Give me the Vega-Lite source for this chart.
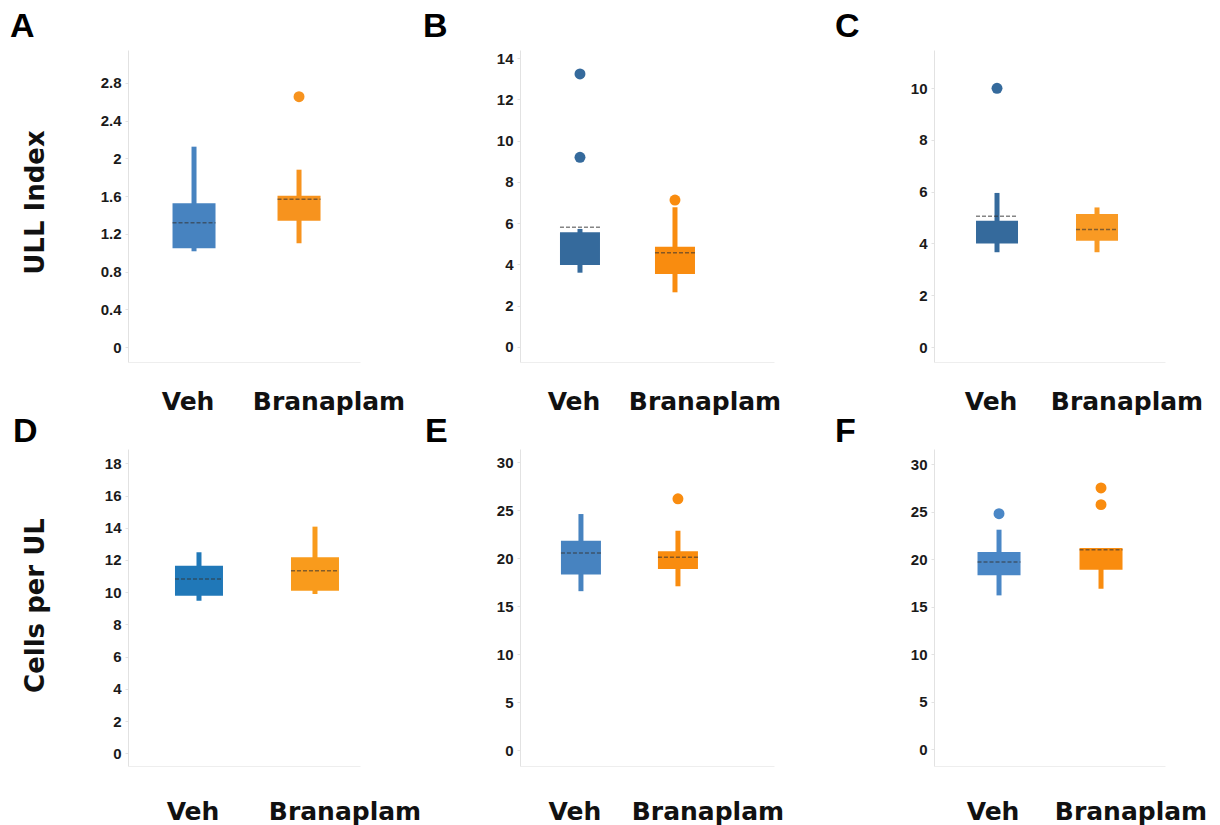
{
  "$schema": "https://vega.github.io/schema/vega-lite/v6.json",
  "background": "white",
  "padding": {"left": 10, "top": 10, "right": 5, "bottom": 5},
  "datasets": {
    "boxes": [
      {"panel": "A", "group": "Veh", "lo": 1.015, "q1": 1.047, "mean": 1.318, "q3": 1.524, "hi": 2.124},
      {"panel": "A", "group": "Branaplam", "lo": 1.10, "q1": 1.339, "mean": 1.566, "q3": 1.605, "hi": 1.88},
      {"panel": "B", "group": "Veh", "lo": 3.60, "q1": 3.97, "mean": 5.80, "q3": 5.56, "hi": 5.72},
      {"panel": "B", "group": "Branaplam", "lo": 2.65, "q1": 3.54, "mean": 4.57, "q3": 4.86, "hi": 6.77},
      {"panel": "C", "group": "Veh", "lo": 3.66, "q1": 4.00, "mean": 5.05, "q3": 4.88, "hi": 5.95},
      {"panel": "C", "group": "Branaplam", "lo": 3.66, "q1": 4.10, "mean": 4.54, "q3": 5.14, "hi": 5.39},
      {"panel": "D", "group": "Veh", "lo": 9.47, "q1": 9.78, "mean": 10.82, "q3": 11.64, "hi": 12.48},
      {"panel": "D", "group": "Branaplam", "lo": 9.89, "q1": 10.09, "mean": 11.33, "q3": 12.17, "hi": 14.07},
      {"panel": "E", "group": "Veh", "lo": 16.56, "q1": 18.29, "mean": 20.54, "q3": 21.82, "hi": 24.6},
      {"panel": "E", "group": "Branaplam", "lo": 17.07, "q1": 18.88, "mean": 20.09, "q3": 20.71, "hi": 22.86},
      {"panel": "F", "group": "Veh", "lo": 16.18, "q1": 18.29, "mean": 19.70, "q3": 20.75, "hi": 23.1},
      {"panel": "F", "group": "Branaplam", "lo": 16.88, "q1": 18.89, "mean": 21.0, "q3": 21.17, "hi": 21.17}
    ],
    "outliers": [
      {"panel": "A", "group": "Branaplam", "value": 2.654},
      {"panel": "B", "group": "Veh", "value": 13.23},
      {"panel": "B", "group": "Veh", "value": 9.19},
      {"panel": "B", "group": "Branaplam", "value": 7.12},
      {"panel": "C", "group": "Veh", "value": 9.99},
      {"panel": "E", "group": "Branaplam", "value": 26.19},
      {"panel": "F", "group": "Veh", "value": 24.79},
      {"panel": "F", "group": "Branaplam", "value": 27.5},
      {"panel": "F", "group": "Branaplam", "value": 25.74}
    ]
  },
  "columns": 3,
  "bounds": "flush",
  "spacing": {"row": 87, "column": 160},
  "resolve": {"scale": {"color": "independent"}},
  "concat": [
    {
      "width": 232, "height": 312,
      "title": {"text": "A", "dx": -118, "offset": 6},
      "encoding": {"x": {"field": "group", "type": "nominal", "sort": ["Veh", "Branaplam"], "title": null,
        "scale": {"domain": ["Veh", "Branaplam"], "paddingInner": 0.5905, "paddingOuter": 0.4, "align": 0.53},
        "axis": {"labelPadding": 27, "labelOffset": {"condition": {"test": "datum.label == 'Branaplam'", "value": 30}, "value": -6}}}},
      "layer": [
        {"data": {"name": "boxes"}, "transform": [{"filter": "datum.panel == 'A'"}], "mark": {"type": "rule", "strokeWidth": 5},
          "encoding": {"y": {"field": "lo", "type": "quantitative", "title": "ULL Index", "scale": {"domain": [-0.159, 3.149], "nice": false, "zero": false},
            "axis": {"values": [0, 0.4, 0.8, 1.2, 1.6, 2, 2.4, 2.8], "format": "~r", "labelOverlap": false, "titleX": -85, "titleY": 152, "titleBaseline": "alphabetic"}},
            "y2": {"field": "hi"},
            "color": {"field": "group", "type": "nominal", "legend": null, "scale": {"domain": ["Veh", "Branaplam"], "range": ["#4783c0", "#f7931e"]}}}},
        {"data": {"name": "boxes"}, "transform": [{"filter": "datum.panel == 'A'"}], "mark": {"type": "bar"},
          "encoding": {"y": {"field": "q1", "type": "quantitative", "title": "ULL Index", "scale": {"domain": [-0.159, 3.149], "nice": false, "zero": false}},
            "y2": {"field": "q3"},
            "color": {"field": "group", "type": "nominal", "legend": null, "scale": {"domain": ["Veh", "Branaplam"], "range": ["#4783c0", "#f7931e"]}}}},
        {"data": {"name": "boxes"}, "transform": [{"filter": "datum.panel == 'A'"}], "mark": {"type": "rule", "strokeDash": [4, 2], "strokeWidth": 1.5, "color": "#333333", "opacity": 0.6},
          "encoding": {"x": {"field": "group", "type": "nominal", "sort": ["Veh", "Branaplam"], "title": null, "bandPosition": 0},
            "x2": {"field": "group", "bandPosition": 1},
            "y": {"field": "mean", "type": "quantitative", "title": "ULL Index", "scale": {"domain": [-0.159, 3.149], "nice": false, "zero": false}}}},
        {"data": {"name": "outliers"}, "transform": [{"filter": "datum.panel == 'A'"}], "mark": {"type": "point", "filled": true, "size": 120, "opacity": 1},
          "encoding": {"y": {"field": "value", "type": "quantitative", "title": "ULL Index", "scale": {"domain": [-0.159, 3.149], "nice": false, "zero": false}},
            "color": {"field": "group", "type": "nominal", "legend": null, "scale": {"domain": ["Veh", "Branaplam"], "range": ["#4783c0", "#f7931e"]}}}}
      ]
    },
    {
      "width": 254, "height": 312,
      "title": {"text": "B", "dx": -97, "offset": 6},
      "encoding": {"x": {"field": "group", "type": "nominal", "sort": ["Veh", "Branaplam"], "title": null,
        "scale": {"domain": ["Veh", "Branaplam"], "paddingInner": 0.5789, "paddingOuter": 0.6263, "align": 0.336},
        "axis": {"labelPadding": 27, "labelOffset": {"condition": {"test": "datum.label == 'Branaplam'", "value": 30}, "value": -6}}}},
      "layer": [
        {"data": {"name": "boxes"}, "transform": [{"filter": "datum.panel == 'B'"}], "mark": {"type": "rule", "strokeWidth": 5},
          "encoding": {"y": {"field": "lo", "type": "quantitative", "title": null, "scale": {"domain": [-0.727, 14.39], "nice": false, "zero": false},
            "axis": {"values": [0, 2, 4, 6, 8, 10, 12, 14], "format": "~r", "labelOverlap": false}},
            "y2": {"field": "hi"},
            "color": {"field": "group", "type": "nominal", "legend": null, "scale": {"domain": ["Veh", "Branaplam"], "range": ["#356a9c", "#f98c0f"]}}}},
        {"data": {"name": "boxes"}, "transform": [{"filter": "datum.panel == 'B'"}], "mark": {"type": "bar"},
          "encoding": {"y": {"field": "q1", "type": "quantitative", "title": null, "scale": {"domain": [-0.727, 14.39], "nice": false, "zero": false}},
            "y2": {"field": "q3"},
            "color": {"field": "group", "type": "nominal", "legend": null, "scale": {"domain": ["Veh", "Branaplam"], "range": ["#356a9c", "#f98c0f"]}}}},
        {"data": {"name": "boxes"}, "transform": [{"filter": "datum.panel == 'B'"}], "mark": {"type": "rule", "strokeDash": [4, 2], "strokeWidth": 1.5, "color": "#333333", "opacity": 0.6},
          "encoding": {"x": {"field": "group", "type": "nominal", "sort": ["Veh", "Branaplam"], "title": null, "bandPosition": 0},
            "x2": {"field": "group", "bandPosition": 1},
            "y": {"field": "mean", "type": "quantitative", "title": null, "scale": {"domain": [-0.727, 14.39], "nice": false, "zero": false}}}},
        {"data": {"name": "outliers"}, "transform": [{"filter": "datum.panel == 'B'"}], "mark": {"type": "point", "filled": true, "size": 120, "opacity": 1},
          "encoding": {"y": {"field": "value", "type": "quantitative", "title": null, "scale": {"domain": [-0.727, 14.39], "nice": false, "zero": false}},
            "color": {"field": "group", "type": "nominal", "legend": null, "scale": {"domain": ["Veh", "Branaplam"], "range": ["#356a9c", "#f98c0f"]}}}}
      ]
    },
    {
      "width": 231, "height": 312,
      "title": {"text": "C", "dx": -99, "offset": 6},
      "encoding": {"x": {"field": "group", "type": "nominal", "sort": ["Veh", "Branaplam"], "title": null,
        "scale": {"domain": ["Veh", "Branaplam"], "paddingInner": 0.58, "paddingOuter": 0.445, "align": 0.472},
        "axis": {"labelPadding": 27, "labelOffset": {"condition": {"test": "datum.label == 'Branaplam'", "value": 30}, "value": -6}}}},
      "layer": [
        {"data": {"name": "boxes"}, "transform": [{"filter": "datum.panel == 'C'"}], "mark": {"type": "rule", "strokeWidth": 5},
          "encoding": {"y": {"field": "lo", "type": "quantitative", "title": null, "scale": {"domain": [-0.579, 11.47], "nice": false, "zero": false},
            "axis": {"values": [0, 2, 4, 6, 8, 10], "format": "~r", "labelOverlap": false}},
            "y2": {"field": "hi"},
            "color": {"field": "group", "type": "nominal", "legend": null, "scale": {"domain": ["Veh", "Branaplam"], "range": ["#356a9c", "#f99a24"]}}}},
        {"data": {"name": "boxes"}, "transform": [{"filter": "datum.panel == 'C'"}], "mark": {"type": "bar"},
          "encoding": {"y": {"field": "q1", "type": "quantitative", "title": null, "scale": {"domain": [-0.579, 11.47], "nice": false, "zero": false}},
            "y2": {"field": "q3"},
            "color": {"field": "group", "type": "nominal", "legend": null, "scale": {"domain": ["Veh", "Branaplam"], "range": ["#356a9c", "#f99a24"]}}}},
        {"data": {"name": "boxes"}, "transform": [{"filter": "datum.panel == 'C'"}], "mark": {"type": "rule", "strokeDash": [4, 2], "strokeWidth": 1.5, "color": "#333333", "opacity": 0.6},
          "encoding": {"x": {"field": "group", "type": "nominal", "sort": ["Veh", "Branaplam"], "title": null, "bandPosition": 0},
            "x2": {"field": "group", "bandPosition": 1},
            "y": {"field": "mean", "type": "quantitative", "title": null, "scale": {"domain": [-0.579, 11.47], "nice": false, "zero": false}}}},
        {"data": {"name": "outliers"}, "transform": [{"filter": "datum.panel == 'C'"}], "mark": {"type": "point", "filled": true, "size": 120, "opacity": 1},
          "encoding": {"y": {"field": "value", "type": "quantitative", "title": null, "scale": {"domain": [-0.579, 11.47], "nice": false, "zero": false}},
            "color": {"field": "group", "type": "nominal", "legend": null, "scale": {"domain": ["Veh", "Branaplam"], "range": ["#356a9c", "#f99a24"]}}}}
      ]
    },
    {
      "width": 232, "height": 317,
      "title": {"text": "D", "dx": -115, "offset": 0},
      "encoding": {"x": {"field": "group", "type": "nominal", "sort": ["Veh", "Branaplam"], "title": null,
        "scale": {"domain": ["Veh", "Branaplam"], "paddingInner": 0.5862, "paddingOuter": 0.2931, "align": 0.691},
        "axis": {"labelPadding": 33, "labelOffset": {"condition": {"test": "datum.label == 'Branaplam'", "value": 30}, "value": -6}}}},
      "layer": [
        {"data": {"name": "boxes"}, "transform": [{"filter": "datum.panel == 'D'"}], "mark": {"type": "rule", "strokeWidth": 5},
          "encoding": {"y": {"field": "lo", "type": "quantitative", "title": "Cells per UL", "scale": {"domain": [-0.789, 18.89], "nice": false, "zero": false},
            "axis": {"values": [0, 2, 4, 6, 8, 10, 12, 14, 16, 18], "format": "~r", "labelOverlap": false, "titleX": -85, "titleY": 156, "titleBaseline": "alphabetic"}},
            "y2": {"field": "hi"},
            "color": {"field": "group", "type": "nominal", "legend": null, "scale": {"domain": ["Veh", "Branaplam"], "range": ["#2078b8", "#f99b1c"]}}}},
        {"data": {"name": "boxes"}, "transform": [{"filter": "datum.panel == 'D'"}], "mark": {"type": "bar"},
          "encoding": {"y": {"field": "q1", "type": "quantitative", "title": "Cells per UL", "scale": {"domain": [-0.789, 18.89], "nice": false, "zero": false},
            "axis": {"values": [0, 2, 4, 6, 8, 10, 12, 14, 16, 18], "format": "~r", "labelOverlap": false}},
            "y2": {"field": "q3"},
            "color": {"field": "group", "type": "nominal", "legend": null, "scale": {"domain": ["Veh", "Branaplam"], "range": ["#2078b8", "#f99b1c"]}}}},
        {"data": {"name": "boxes"}, "transform": [{"filter": "datum.panel == 'D'"}], "mark": {"type": "rule", "strokeDash": [4, 2], "strokeWidth": 1.5, "color": "#333333", "opacity": 0.6},
          "encoding": {"x": {"field": "group", "type": "nominal", "sort": ["Veh", "Branaplam"], "title": null, "bandPosition": 0},
            "x2": {"field": "group", "bandPosition": 1},
            "y": {"field": "mean", "type": "quantitative", "title": "Cells per UL", "scale": {"domain": [-0.789, 18.89], "nice": false, "zero": false},
              "axis": {"values": [0, 2, 4, 6, 8, 10, 12, 14, 16, 18], "format": "~r", "labelOverlap": false}}}},
        {"data": {"name": "outliers"}, "transform": [{"filter": "datum.panel == 'D'"}], "mark": {"type": "point", "filled": true, "size": 120, "opacity": 1},
          "encoding": {"y": {"field": "value", "type": "quantitative", "title": "Cells per UL", "scale": {"domain": [-0.789, 18.89], "nice": false, "zero": false},
            "axis": {"values": [0, 2, 4, 6, 8, 10, 12, 14, 16, 18], "format": "~r", "labelOverlap": false}},
            "color": {"field": "group", "type": "nominal", "legend": null, "scale": {"domain": ["Veh", "Branaplam"], "range": ["#2078b8", "#f99b1c"]}}}}
      ]
    },
    {
      "width": 254, "height": 317,
      "title": {"text": "E", "dx": -95, "offset": 0},
      "encoding": {"x": {"field": "group", "type": "nominal", "sort": ["Veh", "Branaplam"], "title": null,
        "scale": {"domain": ["Veh", "Branaplam"], "paddingInner": 0.5876, "paddingOuter": 0.6031, "align": 0.35},
        "axis": {"labelPadding": 33, "labelOffset": {"condition": {"test": "datum.label == 'Branaplam'", "value": 30}, "value": -6}}}},
      "layer": [
        {"data": {"name": "boxes"}, "transform": [{"filter": "datum.panel == 'E'"}], "mark": {"type": "rule", "strokeWidth": 5},
          "encoding": {"y": {"field": "lo", "type": "quantitative", "title": null, "scale": {"domain": [-1.663, 31.38], "nice": false, "zero": false},
            "axis": {"values": [0, 5, 10, 15, 20, 25, 30], "format": "~r", "labelOverlap": false}},
            "y2": {"field": "hi"},
            "color": {"field": "group", "type": "nominal", "legend": null, "scale": {"domain": ["Veh", "Branaplam"], "range": ["#4783c0", "#f98c0f"]}}}},
        {"data": {"name": "boxes"}, "transform": [{"filter": "datum.panel == 'E'"}], "mark": {"type": "bar"},
          "encoding": {"y": {"field": "q1", "type": "quantitative", "title": null, "scale": {"domain": [-1.663, 31.38], "nice": false, "zero": false}},
            "y2": {"field": "q3"},
            "color": {"field": "group", "type": "nominal", "legend": null, "scale": {"domain": ["Veh", "Branaplam"], "range": ["#4783c0", "#f98c0f"]}}}},
        {"data": {"name": "boxes"}, "transform": [{"filter": "datum.panel == 'E'"}], "mark": {"type": "rule", "strokeDash": [4, 2], "strokeWidth": 1.5, "color": "#333333", "opacity": 0.6},
          "encoding": {"x": {"field": "group", "type": "nominal", "sort": ["Veh", "Branaplam"], "title": null, "bandPosition": 0},
            "x2": {"field": "group", "bandPosition": 1},
            "y": {"field": "mean", "type": "quantitative", "title": null, "scale": {"domain": [-1.663, 31.38], "nice": false, "zero": false}}}},
        {"data": {"name": "outliers"}, "transform": [{"filter": "datum.panel == 'E'"}], "mark": {"type": "point", "filled": true, "size": 120, "opacity": 1},
          "encoding": {"y": {"field": "value", "type": "quantitative", "title": null, "scale": {"domain": [-1.663, 31.38], "nice": false, "zero": false}},
            "color": {"field": "group", "type": "nominal", "legend": null, "scale": {"domain": ["Veh", "Branaplam"], "range": ["#4783c0", "#f98c0f"]}}}}
      ]
    },
    {
      "width": 231, "height": 317,
      "title": {"text": "F", "dx": -99, "offset": 0},
      "encoding": {"x": {"field": "group", "type": "nominal", "sort": ["Veh", "Branaplam"], "title": null,
        "scale": {"domain": ["Veh", "Branaplam"], "paddingInner": 0.5784, "paddingOuter": 0.4216, "align": 0.506},
        "axis": {"labelPadding": 33, "labelOffset": {"condition": {"test": "datum.label == 'Branaplam'", "value": 30}, "value": -6}}}},
      "layer": [
        {"data": {"name": "boxes"}, "transform": [{"filter": "datum.panel == 'F'"}], "mark": {"type": "rule", "strokeWidth": 5},
          "encoding": {"y": {"field": "lo", "type": "quantitative", "title": null, "scale": {"domain": [-1.79, 31.6], "nice": false, "zero": false},
            "axis": {"values": [0, 5, 10, 15, 20, 25, 30], "format": "~r", "labelOverlap": false}},
            "y2": {"field": "hi"},
            "color": {"field": "group", "type": "nominal", "legend": null, "scale": {"domain": ["Veh", "Branaplam"], "range": ["#4a87c6", "#f98c0f"]}}}},
        {"data": {"name": "boxes"}, "transform": [{"filter": "datum.panel == 'F'"}], "mark": {"type": "bar"},
          "encoding": {"y": {"field": "q1", "type": "quantitative", "title": null, "scale": {"domain": [-1.79, 31.6], "nice": false, "zero": false}},
            "y2": {"field": "q3"},
            "color": {"field": "group", "type": "nominal", "legend": null, "scale": {"domain": ["Veh", "Branaplam"], "range": ["#4a87c6", "#f98c0f"]}}}},
        {"data": {"name": "boxes"}, "transform": [{"filter": "datum.panel == 'F'"}], "mark": {"type": "rule", "strokeDash": [4, 2], "strokeWidth": 1.5, "color": "#333333", "opacity": 0.6},
          "encoding": {"x": {"field": "group", "type": "nominal", "sort": ["Veh", "Branaplam"], "title": null, "bandPosition": 0},
            "x2": {"field": "group", "bandPosition": 1},
            "y": {"field": "mean", "type": "quantitative", "title": null, "scale": {"domain": [-1.79, 31.6], "nice": false, "zero": false}}}},
        {"data": {"name": "outliers"}, "transform": [{"filter": "datum.panel == 'F'"}], "mark": {"type": "point", "filled": true, "size": 120, "opacity": 1},
          "encoding": {"y": {"field": "value", "type": "quantitative", "title": null, "scale": {"domain": [-1.79, 31.6], "nice": false, "zero": false}},
            "color": {"field": "group", "type": "nominal", "legend": null, "scale": {"domain": ["Veh", "Branaplam"], "range": ["#4a87c6", "#f98c0f"]}}}}
      ]
    }
  ],
  "config": {
    "view": {"stroke": null},
    "title": {"font": "Liberation Sans", "fontSize": 34, "fontWeight": "bold", "color": "#000000", "anchor": "start", "frame": "group"},
    "axisY": {"grid": false, "labelFont": "Liberation Sans", "labelFontWeight": "bold", "labelFontSize": 15, "labelColor": "#1a1a1a",
      "domainColor": "#e2e2e2", "tickColor": "#e2e2e2", "tickSize": 3, "labelPadding": 4, "labelOverlap": false,
      "titleFont": "DejaVu Sans", "titleFontWeight": "bold", "titleFontSize": 26, "titleColor": "#111111"},
    "axisX": {"grid": false, "labelFont": "DejaVu Sans", "labelFontWeight": "bold", "labelFontSize": 25, "labelColor": "#111111",
      "ticks": false, "domainColor": "#eeeeee", "labelAngle": 0}
  }
}
